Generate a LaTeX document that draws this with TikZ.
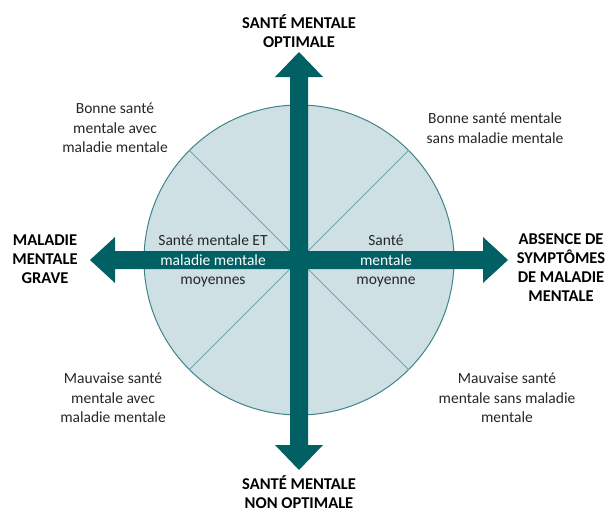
\documentclass[tikz,border=0pt]{standalone}
\usepackage{fontspec}
\setmainfont{Carlito}
\usetikzlibrary{calc}
\definecolor{AxisClr}{RGB}{0,96,100}
\definecolor{DiscClr}{RGB}{206,224,228}
\definecolor{RimClr}{RGB}{62,132,138}
\definecolor{RayClr}{RGB}{112,166,172}
\definecolor{TxtClr}{RGB}{38,38,38}

\tikzset{
  axisfill/.style={fill=AxisClr,draw=none},
  ray/.style={draw=RayClr,line width=0.9pt},
  corner/.style={align=center,text=TxtClr,font=\fontsize{15.5}{19.5}\selectfont},
  pole/.style={align=center,text=black,font=\bfseries\fontsize{16.5}{19}\selectfont},
}

\begin{document}
\begin{tikzpicture}[x=1pt,y=-1pt]
\useasboundingbox (0,0) rectangle (610,511);

\coordinate (O) at (299,260);

% disc and its four rays
\draw[fill=DiscClr,draw=RimClr,line width=1pt] (O) circle (155);
\foreach \ang in {45,135,225,315}
  \draw[ray] (O) -- ($(O)+(\ang:155)$);

% the two axes
\fill[axisfill] (290,77) -- (275,77) -- (299,52) -- (323,77) -- (308,77)
  -- (308,445) -- (323,445) -- (299,470) -- (275,445) -- (290,445) -- cycle;
\fill[axisfill] (115,251) -- (115,237) -- (90,260) -- (115,283) -- (115,269)
  -- (483,269) -- (483,283) -- (508,260) -- (483,237) -- (483,251) -- cycle;

% poles
\node[pole] (top) at (299,31) {SANTÉ MENTALE\\OPTIMALE};
\node[pole] (bot) at (299,492) {SANTÉ MENTALE\\NON OPTIMALE};
\node[pole] (lft) at (45,259) {MALADIE\\MENTALE\\GRAVE};
\node[pole] (rgt) at (561,268) {ABSENCE DE\\SYMPTÔMES\\DE MALADIE\\MENTALE};

% quadrants
\node[corner] (tl) at (115,128) {Bonne santé\\mentale avec\\maladie mentale};
\node[corner] (tr) at (495,128) {Bonne santé mentale\\sans maladie mentale};
\node[corner] (bl) at (113,398) {Mauvaise santé\\mentale avec\\maladie mentale};
\node[corner] (br) at (507,398) {Mauvaise santé\\mentale sans maladie\\mentale};

% inside the disc
\node[corner] (il) at (213,261) {Santé mentale ET\\\textcolor{white}{maladie mentale}\\moyennes};
\node[corner] (ir) at (386,261) {Santé\\\textcolor{white}{mentale}\\moyenne};

\end{tikzpicture}
\end{document}
